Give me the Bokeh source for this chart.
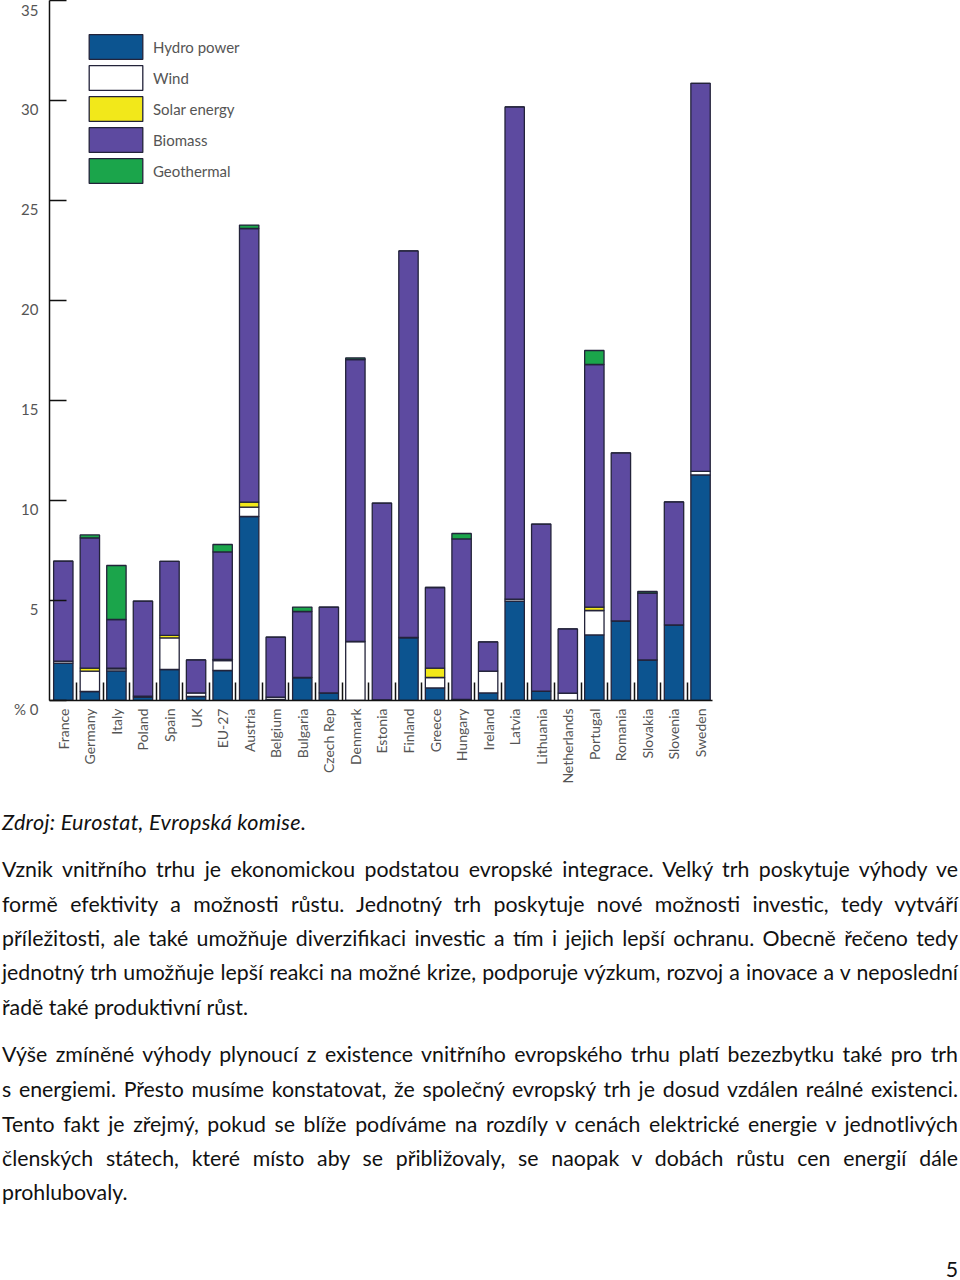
import math
from bokeh.plotting import figure
from bokeh.models import (ColumnDataSource, FixedTicker, Legend, LegendItem, Div)
from bokeh.layouts import column
from bokeh.embed import file_html
from bokeh.resources import INLINE

# ---------------- data ----------------
countries = ["France", "Germany", "Italy", "Poland", "Spain", "UK", "EU-27",
             "Austria", "Belgium", "Bulgaria", "Czech Rep", "Denmark", "Estonia",
             "Finland", "Greece", "Hungary", "Ireland", "Latvia", "Lithuania",
             "Netherlands", "Portugal", "Romania", "Slovakia", "Slovenia", "Sweden"]
hydro = [1.87, 0.45, 1.48, 0.17, 1.55, 0.20, 1.50, 9.20, 0.05, 1.15, 0.38, 0.00, 0.03,
         3.15, 0.63, 0.05, 0.38, 4.97, 0.47, 0.00, 3.28, 3.98, 2.03, 3.78, 11.28]
wind = [0.10, 1.02, 0.10, 0.05, 1.58, 0.18, 0.50, 0.47, 0.12, 0.00, 0.00, 2.95, 0.00,
        0.00, 0.52, 0.00, 1.09, 0.10, 0.00, 0.37, 1.22, 0.00, 0.00, 0.00, 0.18]
solar = [0.00, 0.15, 0.04, 0.00, 0.13, 0.00, 0.05, 0.25, 0.00, 0.00, 0.00, 0.00, 0.00,
         0.00, 0.47, 0.00, 0.00, 0.00, 0.00, 0.00, 0.17, 0.00, 0.00, 0.00, 0.00]
biomass = [5.00, 6.51, 2.43, 4.75, 3.70, 1.65, 5.38, 13.68, 3.00, 3.30, 4.29, 14.10, 9.84,
           19.33, 4.03, 8.03, 1.46, 24.61, 8.35, 3.21, 12.13, 8.40, 3.34, 6.15, 19.40]
geothermal = [0.00, 0.15, 2.70, 0.00, 0.00, 0.00, 0.37, 0.17, 0.00, 0.22, 0.00, 0.08, 0.00,
              0.00, 0.00, 0.27, 0.00, 0.00, 0.00, 0.00, 0.70, 0.00, 0.08, 0.00, 0.00]
series_names = ["Hydro power", "Wind", "Solar energy", "Biomass", "Geothermal"]
series_keys = ["hydro", "wind", "solar", "biomass", "geothermal"]
series_colors = ["#0c5490", "#ffffff", "#f2e81a", "#5d4aa0", "#1ba54b"]
y_ticks = [0, 5, 10, 15, 20, 25, 30, 35]
y_tick_labels = ["% 0", "5", "10", "15", "20", "25", "30", "35"]

source_note = "Zdroj: Eurostat, Evropská komise."
para1 = ["Vznik vnitřního trhu je ekonomickou podstatou evropské integrace. Velký trh poskytuje výhody ve",
         "formě efektivity a možnosti růstu. Jednotný trh poskytuje nové možnosti investic, tedy vytváří",
         "příležitosti, ale také umožňuje diverzifikaci investic a tím i jejich lepší ochranu. Obecně řečeno tedy",
         "jednotný trh umožňuje lepší reakci na možné krize, podporuje výzkum, rozvoj a inovace a v\u00a0neposlední",
         "řadě také produktivní růst."]
para2 = ["Výše zmíněné výhody plynoucí z\u00a0existence vnitřního evropského trhu platí bezezbytku také pro trh",
         "s\u00a0energiemi. Přesto musíme konstatovat, že společný evropský trh je dosud vzdálen reálné existenci.",
         "Tento fakt je zřejmý, pokud se blíže podíváme na rozdíly v\u00a0cenách elektrické energie v\u00a0jednotlivých",
         "členských státech, které místo aby se přibližovaly, se naopak v\u00a0dobách růstu cen energií dále",
         "prohlubovaly."]
page_number = "5"

# ---------------- chart ----------------
FONT = "Lato"
GRAY = "#555555"
OUTLINE = "#23233a"
AXIS = "#111111"

src = ColumnDataSource(dict(x=list(range(len(countries))), hydro=hydro, wind=wind,
                            solar=solar, biomass=biomass, geothermal=geothermal))

p = figure(width=960, height=800, x_range=(-0.52, 24.45), y_range=(0, 35),
           output_backend="svg", toolbar_location=None,
           min_border_left=49, min_border_right=248, min_border_top=0,
           min_border_bottom=100, margin=0)
p.outline_line_color = None
p.xgrid.visible = False
p.ygrid.visible = False

rs = p.vbar_stack(series_keys, x="x", width=0.73, source=src,
                  fill_color=series_colors, line_color=OUTLINE, line_width=1.3)

# y axis: ticks pointing inwards, labels sitting a little below their ticks
p.yaxis.ticker = FixedTicker(ticks=y_ticks, minor_ticks=[])
p.yaxis.major_label_overrides = {t: (s if t == y_ticks[-1] else "\n" + s)
                                 for t, s in zip(y_ticks, y_tick_labels)}
p.yaxis.major_label_text_line_height = 0.95
p.yaxis.major_tick_in = 17
p.yaxis.major_tick_out = 0
p.yaxis.minor_tick_line_color = None
p.yaxis.axis_line_width = 1.5
p.yaxis.major_tick_line_width = 1.5
p.yaxis.axis_line_color = AXIS
p.yaxis.major_tick_line_color = AXIS
p.yaxis.major_label_standoff = 11
p.yaxis.major_label_text_font = FONT
p.yaxis.major_label_text_font_size = "15px"
p.yaxis.major_label_text_color = GRAY

# x axis: category names rotated, small ticks between bars
p.xaxis.ticker = FixedTicker(ticks=list(range(len(countries))),
                             minor_ticks=[i + 0.5 for i in range(len(countries) - 1)])
p.xaxis.major_label_overrides = {i: c for i, c in enumerate(countries)}
p.xaxis.major_label_orientation = math.pi / 2
p.xaxis.major_tick_in = 0
p.xaxis.major_tick_out = 0
p.xaxis.minor_tick_in = 18
p.xaxis.minor_tick_out = 0
p.xaxis.minor_tick_line_width = 1.5
p.xaxis.minor_tick_line_color = AXIS
p.xaxis.axis_line_width = 1.5
p.xaxis.axis_line_color = AXIS
p.xaxis.major_label_standoff = 8
p.xaxis.major_label_text_font = FONT
p.xaxis.major_label_text_font_size = "14px"
p.xaxis.major_label_text_color = GRAY

legend = Legend(items=[LegendItem(label=n, renderers=[r]) for n, r in zip(series_names, rs)],
                location=(33, 514), orientation="vertical", glyph_width=67, glyph_height=31,
                spacing=0, padding=0, margin=0, label_standoff=4,
                border_line_color=None, background_fill_alpha=0,
                label_text_font=FONT, label_text_font_size="15px", label_text_color=GRAY)
p.add_layout(legend)

# ---------------- text block ----------------
BODY_FONT = "Lato"
FS = 21.3
LH = 34
DIV_TOP = 800          # page y of the text block
BASE_OFF = 25          # baseline offset inside a line box


def line_html(txt, baseline, justify=False, italic=False, right=False):
    top = baseline - DIV_TOP - BASE_OFF
    st = (f"position:absolute;left:2px;top:{top}px;width:956px;height:{LH}px;"
          f"line-height:{LH}px;white-space:nowrap;")
    if justify:
        st += "text-align:justify;text-align-last:justify;"
    elif right:
        st += "text-align:right;"
    else:
        st += "text-align:left;"
    if italic:
        st += "font-style:italic;letter-spacing:0.3px;font-size:21.6px;"
    return f'<div style="{st}">{txt}</div>'


parts = [line_html(source_note, 830, italic=True)]
for i, t in enumerate(para1):
    parts.append(line_html(t, round(877 + i * 34.5), justify=(i < len(para1) - 1)))
for i, t in enumerate(para2):
    parts.append(line_html(t, round(1062.5 + i * 34.5), justify=(i < len(para2) - 1)))
parts.append(line_html(page_number, 1277, right=True))

html = (f'<div style="position:relative;width:960px;height:480px;font-family:{BODY_FONT};'
        f'font-size:{FS}px;color:#111111;">' + "".join(parts) + "</div>")
div = Div(text=html, width=960, height=480, margin=0)

layout = column(p, div, spacing=0, margin=0)

open("out.html", "w").write(file_html(layout, INLINE))
